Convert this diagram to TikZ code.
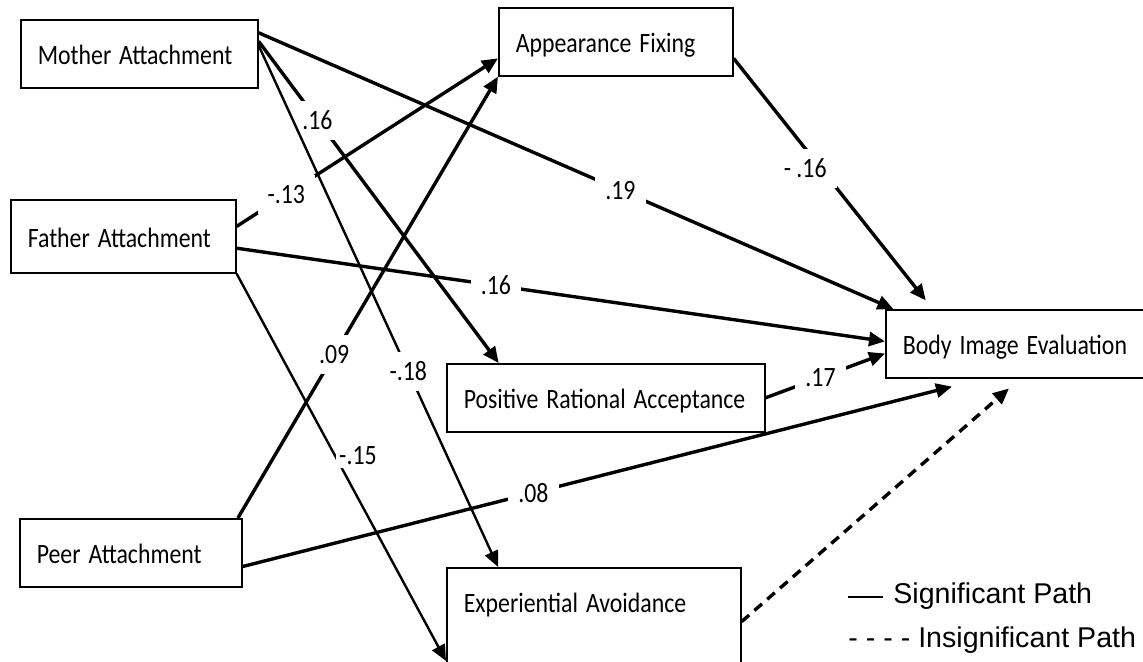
\documentclass[tikz,border=0pt]{standalone}
\usepackage{graphicx}
\usepackage{fontspec}
\setmainfont{Carlito}
\newfontfamily\legendfont{Liberation Sans}
\usetikzlibrary{arrows.meta}
\newcommand\cb[1]{\scalebox{0.85}[1]{#1}}
\begin{document}
\begin{tikzpicture}[x=0.5pt,y=-0.5pt,font=\fontsize{14}{17}\selectfont,
  box/.style={draw,line width=0.8pt,anchor=north west,minimum height=34pt,
    inner xsep=8.5pt,inner ysep=0pt,text height=11pt,text depth=0pt,
    text width=#1,align=left},
  sig/.style={draw,line width=1.7pt,-{Triangle[length=8pt,width=7pt]}},
  sigthin/.style={sig,line width=1.2pt},
  insig/.style={sig,dash pattern=on 5pt off 3.5pt},
  coef/.style={fill=white,inner sep=5pt},
  legend/.style={font=\legendfont\fontsize{14.3}{17}\selectfont,inner sep=0pt}]
\useasboundingbox (0,0) rectangle (1143,662);
\clip (0,0) rectangle (1143,662);
\node[box=101.5pt] (ma) at (20,19) {\cb{Mother Attachment}};
\node[box=95.5pt,minimum height=36.5pt] (fa) at (10,199) {\cb{Father Attachment}};
\node[box=94pt] (pa) at (19,518) {\cb{Peer Attachment}};
\node[box=100pt] (af) at (498,7) {\cb{Appearance Fixing}};
\node[box=142pt] (pra) at (446,363) {\cb{Positive Rational Acceptance}};
\node[box=130pt,inner ysep=11.5pt,text depth=25pt] (ea) at (446,567) {\cb{Experiential Avoidance}};
\node[box=120.5pt] (bie) at (885,309) {\cb{Body Image Evaluation}};
\path[sig] (ma.10) -- node[coef,pos=.57] {\cb{.19}} (bie.165);
\path[sig] (ma.6) -- node[coef,pos=.245] {\cb{.16}} (pra.162);
\path[sigthin] (ma.4) -- node[coef,pos=.625] {\cb{-.18}} (ea.148);
\path[sig] (fa.5) -- node[coef,pos=.19] {\cb{-.13}} (af.188);
\path[sig] (fa.354) -- node[coef,pos=.40] {\cb{.16}} (bie.179);
\path[sigthin] (fa.south east) -- node[coef,pos=.47,anchor=west,inner sep=1.5pt] {\cb{-.15}} (ea.193);
\path[sig] (pa.18) -- node[coef,pos=.37] {\cb{.09}} (af.south west);
\path[sig] (pa.353) -- node[coef,pos=.41] {\cb{.08}} ([yshift=-4pt]bie.206);
\path[sig] (pra.east) -- node[coef,pos=.46] {\cb{.17}} (bie.184);
\path[sig,shorten >=5.5pt] (af.352) -- node[coef,pos=.44,xshift=-8pt] {\cb{- .16}} (bie.159);
\path[insig,shorten >=7.5pt] (ea.2) -- (bie.265);
\coordinate (sigstart) at (848,597);
\coordinate (sigend) at (883,597);
\draw[line width=0.6pt] (sigstart) -- (sigend);
\node[legend,anchor=base west] (sigtxt) at (893,603) {Significant Path};
\node[legend,anchor=base west] (insigtxt) at (848,647) {- - - - Insignificant Path};
\end{tikzpicture}
\end{document}
